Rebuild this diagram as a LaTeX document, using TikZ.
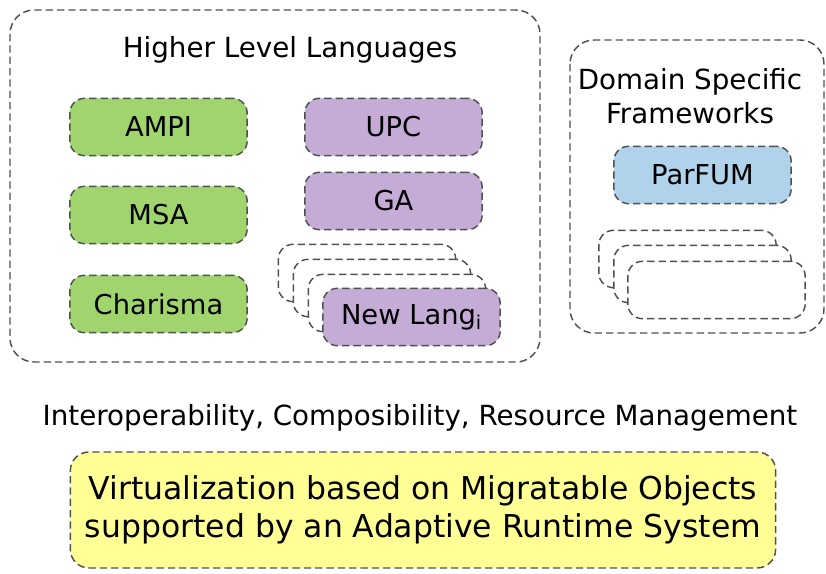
\documentclass[tikz,border=0pt]{standalone}
\usepackage{fontspec}
\setmainfont{DejaVu Sans}
\definecolor{edge}{RGB}{80,80,80}
\definecolor{langgreen}{RGB}{160,213,110}
\definecolor{langpurple}{RGB}{196,172,214}
\definecolor{fwblue}{RGB}{176,210,235}
\definecolor{rtsyellow}{RGB}{255,255,150}
\tikzset{
  dbox/.style={draw=edge, line width=1.1pt, dash pattern=on 5.5pt off 3pt, rounded corners=14pt},
  group/.style={dbox, rounded corners=18pt},
  item/.style={dbox, rounded corners=11pt, minimum width=133pt, minimum height=43pt, inner sep=0pt, font=\fontsize{20.5}{24}\selectfont},
  ghost/.style={item, fill=white},
  lbl/.style={font=\fontsize{20.8}{24}\selectfont, inner sep=0pt}
}
\begin{document}
\begin{tikzpicture}[x=0.75pt,y=-0.75pt]
\useasboundingbox (0,0) rectangle (826,574);

% group frames
\draw[group] (10,10) rectangle (540,362);
\draw[group] (570,40) rectangle (824,333);

\node[lbl] (hll) at (290,50) {Higher Level Languages};
\node[lbl, align=center, font=\fontsize{20.8}{25.5}\selectfont] (dsf) at (690,96) {Domain Specific\\Frameworks};

% language boxes
\node[item, fill=langgreen] (ampi) at (158.5,127) {AMPI};
\node[item, fill=langgreen] (msa) at (158.5,215) {MSA};
\node[item, fill=langgreen] (charisma) at (158.5,304) {Charisma};
\node[item, fill=langpurple] (upc) at (393.5,127) {UPC};
\node[item, fill=langpurple] (ga) at (393.5,201) {GA};

% stacked placeholders for new languages
\node[ghost] (nl1) at (367,273) {};
\node[ghost] (nl2) at (382,288) {};
\node[ghost] (nl3) at (397,303) {};
\node[item, fill=langpurple] (newlang) at (411.5,317) {New Lang\textsubscript{i}};

% frameworks
\node[item, fill=fwblue] (parfum) at (702.5,175) {ParFUM};
\node[ghost] (fw1) at (687.5,259) {};
\node[ghost] (fw2) at (702.5,274) {};
\node[ghost] (fw3) at (716.5,290) {};

\node[lbl] (interop) at (420,418) {Interoperability, Composibility, Resource Management};

\node[dbox, fill=rtsyellow, minimum width=529pt, minimum height=87pt, inner sep=0pt, align=center,
      font=\fontsize{23.6}{28.5}\selectfont] (rts) at (423,510)
  {Virtualization based on Migratable Objects\\supported by an Adaptive Runtime System};
\end{tikzpicture}
\end{document}
